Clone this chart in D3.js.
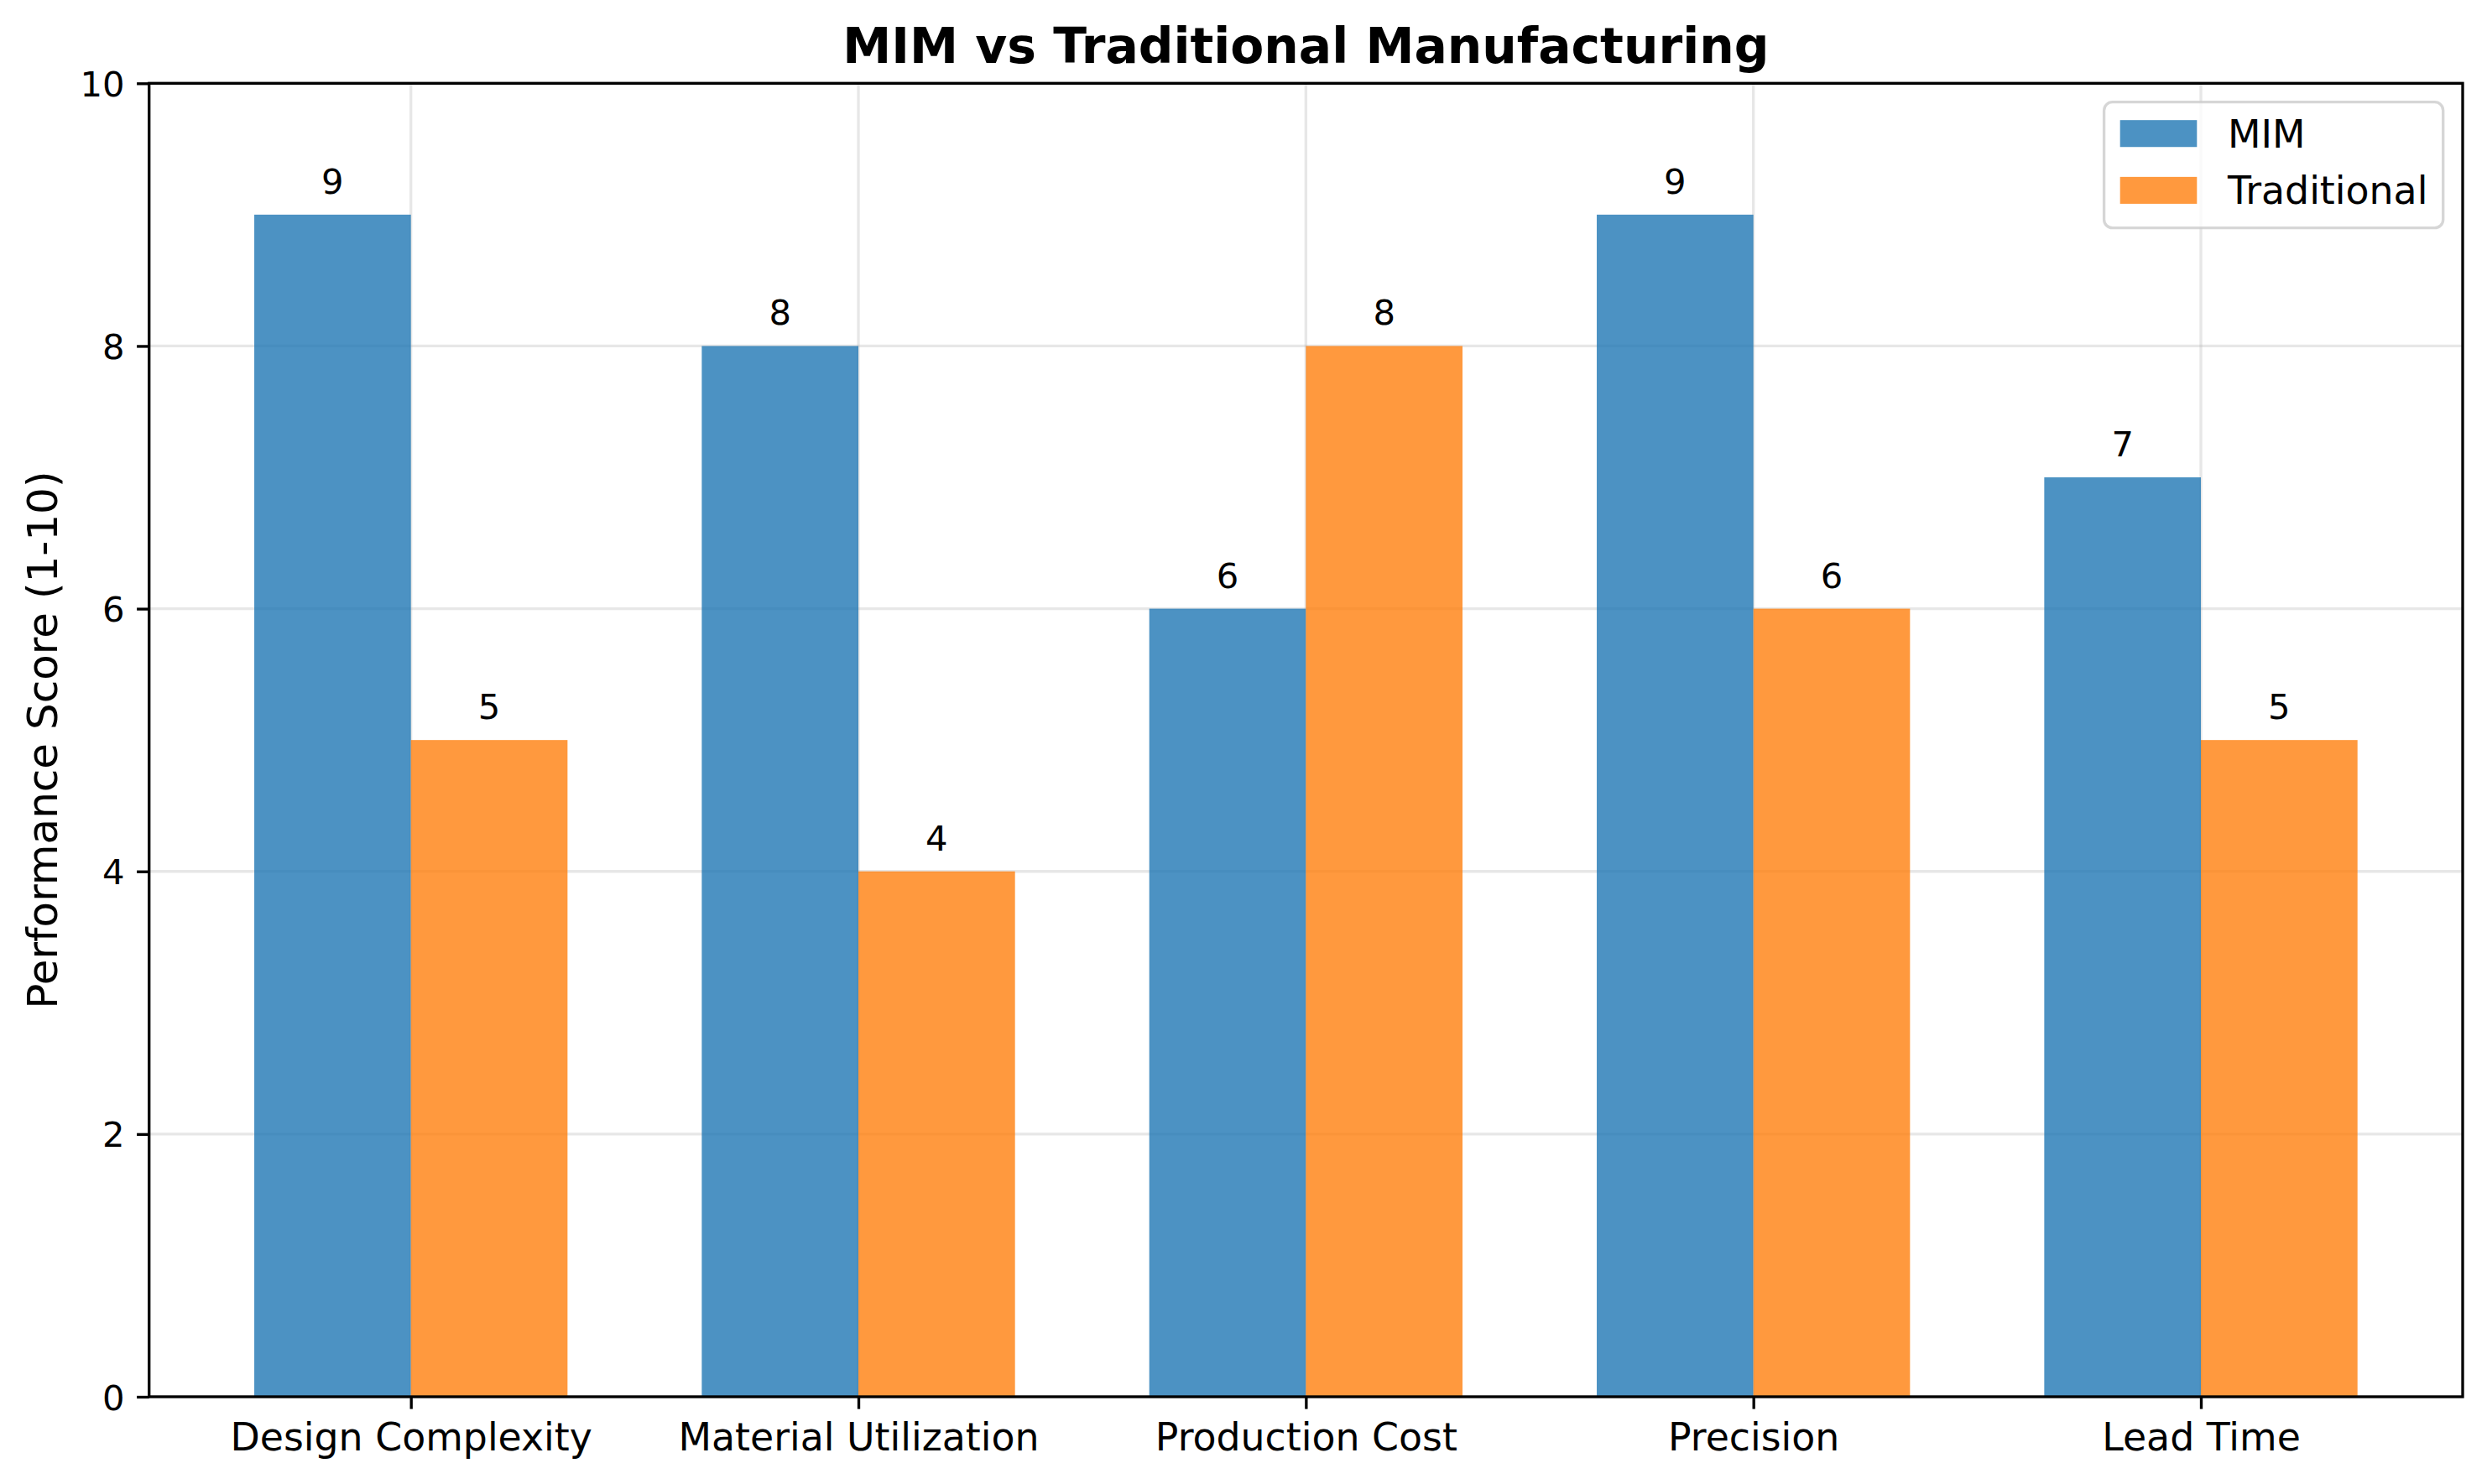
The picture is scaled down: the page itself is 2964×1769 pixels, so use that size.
<!DOCTYPE html>
<html>
<head>
<meta charset="utf-8">
<script src="https://cdn.jsdelivr.net/npm/d3@7"></script>
<style>
  html, body { margin: 0; padding: 0; background: #ffffff; }
  svg { display: block; font-family: "DejaVu Sans", sans-serif; }
</style>
</head>
<body>
<svg id="chart" width="2964" height="1769"></svg>
<script>
const categories = ["Design Complexity", "Material Utilization", "Production Cost", "Precision", "Lead Time"];
const mimValues = [9, 8, 6, 9, 7];
const traditionalValues = [5, 4, 8, 6, 5];
const seriesNames = ["MIM", "Traditional"];
const yTicks = [0, 2, 4, 6, 8, 10];
const titleText = "MIM vs Traditional Manufacturing";
const yLabelText = "Performance Score (1-10)";

const W = 2964, H = 1769;
const plot = { left: 177.7, right: 2935, top: 99.3, bottom: 1665 };
const barW = 0.35;
const colors = ["#1f77b4", "#ff7f0e"];
const lw = 3.33;
const tickLen = 14.6;

const svg = d3.select("#chart");
svg.append("rect").attr("width", W).attr("height", H).attr("fill", "#fff");

const x = d3.scaleLinear().domain([-0.585, categories.length - 1 + 0.585]).range([plot.left, plot.right]);
const y = d3.scaleLinear().domain([0, 10]).range([plot.bottom, plot.top]);

// grid
const grid = svg.append("g");
grid.selectAll("line.h").data(yTicks).join("line")
  .attr("x1", plot.left).attr("x2", plot.right)
  .attr("y1", d => y(d)).attr("y2", d => y(d))
  .attr("stroke", "#b0b0b0").attr("stroke-opacity", 0.3).attr("stroke-width", lw);
grid.selectAll("line.v").data(categories.map((c, i) => i)).join("line")
  .attr("x1", d => x(d)).attr("x2", d => x(d))
  .attr("y1", plot.top).attr("y2", plot.bottom)
  .attr("stroke", "#b0b0b0").attr("stroke-opacity", 0.3).attr("stroke-width", lw);

// bars
const series = [mimValues, traditionalValues];
series.forEach((vals, s) => {
  const off = s === 0 ? -barW : 0;
  const g = svg.append("g");
  g.selectAll("rect").data(vals).join("rect")
    .attr("x", (d, i) => x(i + off))
    .attr("width", (d, i) => x(i + off + barW) - x(i + off))
    .attr("y", d => y(d))
    .attr("height", d => y(0) - y(d))
    .attr("fill", colors[s]).attr("fill-opacity", 0.8);
  g.selectAll("text").data(vals).join("text")
    .attr("x", (d, i) => x(i + off + barW / 2))
    .attr("y", d => y(d) - 25)
    .attr("text-anchor", "middle")
    .attr("font-size", 41.7)
    .attr("fill", "#000")
    .text(d => d);
});

// axes
const xAxis = d3.axisBottom(x).tickValues(categories.map((c, i) => i))
  .tickFormat(i => categories[i]).tickSize(tickLen).tickPadding(14.6);
const gx = svg.append("g").attr("transform", `translate(0,${plot.bottom})`).call(xAxis);
gx.select(".domain").remove();
gx.selectAll(".tick line").attr("stroke", "#000").attr("stroke-width", lw);
gx.selectAll(".tick text").attr("font-size", 45.8).attr("fill", "#000")
  .attr("font-family", "DejaVu Sans").attr("dy", "0.76em");

const yAxis = d3.axisLeft(y).tickValues(yTicks).tickFormat(d3.format("d"))
  .tickSize(tickLen).tickPadding(14.6);
const gy = svg.append("g").attr("transform", `translate(${plot.left},0)`).call(yAxis);
gy.select(".domain").remove();
gy.selectAll(".tick line").attr("stroke", "#000").attr("stroke-width", lw);
gy.selectAll(".tick text").attr("font-size", 41.7).attr("fill", "#000")
  .attr("font-family", "DejaVu Sans").attr("dy", "0.36em");

// spines
svg.append("rect")
  .attr("x", plot.left).attr("y", plot.top)
  .attr("width", plot.right - plot.left).attr("height", plot.bottom - plot.top)
  .attr("fill", "none").attr("stroke", "#000").attr("stroke-width", lw)
  .attr("stroke-linejoin", "miter");

// title
svg.append("text")
  .attr("x", (plot.left + plot.right) / 2).attr("y", 75)
  .attr("text-anchor", "middle").attr("font-size", 58.3).attr("font-weight", "bold")
  .attr("fill", "#000").text(titleText);

// y label
svg.append("text")
  .attr("transform", `translate(68,${(plot.top + plot.bottom) / 2}) rotate(-90)`)
  .attr("text-anchor", "middle").attr("font-size", 50).attr("fill", "#000")
  .text(yLabelText);

// legend
const fs = 45.8;
const leg = { left: 2507.6, right: 2911.7, top: 121.7, bottom: 271.7 };
const lg = svg.append("g");
lg.append("rect")
  .attr("x", leg.left).attr("y", leg.top)
  .attr("width", leg.right - leg.left).attr("height", leg.bottom - leg.top)
  .attr("rx", 10).attr("ry", 10)
  .attr("fill", "#fff").attr("fill-opacity", 0.8)
  .attr("stroke", "#cccccc").attr("stroke-opacity", 0.8).attr("stroke-width", lw);
const rowY = [159.2, 226.9];
seriesNames.forEach((name, s) => {
  lg.append("rect")
    .attr("x", 2526.7).attr("y", rowY[s] - 0.35 * fs)
    .attr("width", 2 * fs).attr("height", 0.7 * fs)
    .attr("fill", colors[s]).attr("fill-opacity", 0.8);
  lg.append("text")
    .attr("x", 2526.7 + 2 * fs + 0.8 * fs).attr("y", rowY[s])
    .attr("dy", "0.36em")
    .attr("font-size", fs).attr("fill", "#000").text(name);
});
</script>
</body>
</html>
